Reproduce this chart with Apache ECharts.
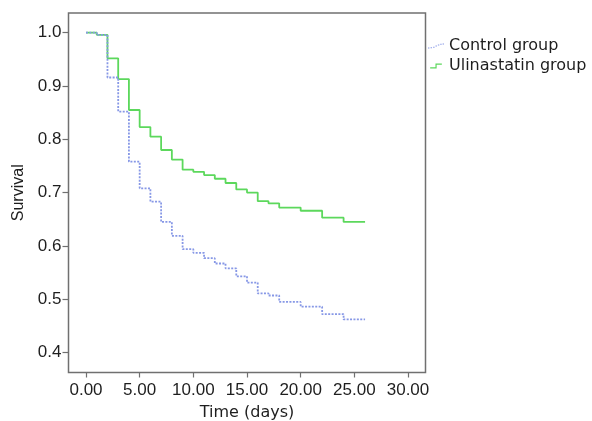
<!DOCTYPE html>
<html>
<head>
<meta charset="utf-8">
<script src="https://cdn.jsdelivr.net/npm/echarts@6/dist/echarts.min.js"></script>
<style>
html,body{margin:0;padding:0;background:#fff;}
#chart{width:592px;height:421px;}
</style>
</head>
<body>
<div id="chart"></div>
<script>
// Time points (days) at which survival changes
var times = [0, 1, 2, 3, 4, 5, 6, 7, 8, 9, 10, 11, 12, 13, 14, 15, 16, 17, 18, 20, 22, 24, 26];
// Survival of each group after each time point
var controlSurvival = [1.0, 0.996, 0.916, 0.852, 0.758, 0.708, 0.683, 0.645, 0.619, 0.594, 0.587, 0.577, 0.567, 0.558, 0.543, 0.531, 0.511, 0.507, 0.495, 0.486, 0.472, 0.462, 0.462];
var ulinastatinSurvival = [1.0, 0.996, 0.952, 0.913, 0.855, 0.823, 0.805, 0.780, 0.762, 0.743, 0.739, 0.733, 0.726, 0.718, 0.706, 0.700, 0.684, 0.680, 0.672, 0.666, 0.653, 0.645, 0.645];
var seriesNames = ['Control group', 'Ulinastatin group'];
var xTicks = [0, 5, 10, 15, 20, 25, 30];
var yTicks = [0.4, 0.5, 0.6, 0.7, 0.8, 0.9, 1.0];

function pairs(xs, ys) { return xs.map(function (x, i) { return [x, ys[i]]; }); }

var blue = '#8798e6';
var green = '#5cd85c';
var helv = 'Liberation Sans, Arial, Helvetica, sans-serif';
var wide = 'DejaVu Sans, sans-serif';
var textColor = '#1e1e1e';
var frameColor = '#707070';

var chart = echarts.init(document.getElementById('chart'), null, {renderer: 'canvas'});
chart.setOption({
  animation: false,
  backgroundColor: '#ffffff',
  textStyle: {fontFamily: helv},
  grid: {
    left: 68.5, top: 13, right: 166.5, bottom: 48.5,
    outerBoundsMode: 'none', containLabel: false,
    show: true, borderColor: frameColor, borderWidth: 1.5, backgroundColor: 'transparent'
  },
  legend: {
    orient: 'vertical',
    left: 428, top: 38,
    padding: 0,
    itemWidth: 16, itemHeight: 5, itemGap: 4,
    symbolKeepAspect: true,
    textStyle: {fontSize: 16, color: textColor, fontFamily: wide, lineHeight: 16},
    data: [
      {name: seriesNames[0], icon: 'path://M0,4.2h1.3v0.9h-1.3z M2.4,4.1h1.3v0.9h-1.3z M4.8,3.5h1.3v0.9h-1.3z M7,2.4h1.3v0.9h-1.3z M9.2,1.4h1.3v0.9h-1.3z M11.4,0.7h1.3v0.9h-1.3z M13.6,0.6h1.3v0.9h-1.3z', itemStyle: {color: blue, borderWidth: 0}},
      {name: seriesNames[1], icon: 'path://M0,4.1L5,4.1L5,0.5L11,0.5L11,1.6L6.1,1.6L6.1,5.2L0,5.2Z', itemStyle: {color: green, borderWidth: 0}}
    ]
  },
  xAxis: {
    type: 'value',
    min: -1.63, max: 31.63,
    name: 'Time (days)', nameLocation: 'middle', nameGap: 32,
    nameTextStyle: {fontSize: 16, color: textColor, fontFamily: wide},
    axisLine: {show: false, onZero: false},
    axisTick: {show: true, inside: true, length: -5, customValues: xTicks, lineStyle: {color: frameColor, width: 1.2}},
    axisLabel: {customValues: xTicks, margin: 9, fontSize: 17, color: textColor, fontFamily: helv,
      formatter: function (v) { return Number(v).toFixed(2); }},
    splitLine: {show: false}
  },
  yAxis: {
    type: 'value',
    min: 0.3625, max: 1.037,
    name: 'Survival', nameLocation: 'middle', nameGap: 37,
    nameTextStyle: {fontSize: 16, color: textColor, fontFamily: helv},
    axisLine: {show: false, onZero: false},
    axisTick: {show: true, inside: true, length: -6, customValues: yTicks, lineStyle: {color: frameColor, width: 1.2}},
    axisLabel: {customValues: yTicks, margin: 7, fontSize: 17, color: textColor, fontFamily: helv,
      formatter: function (v) { return Number(v).toFixed(1); }},
    splitLine: {show: false}
  },
  series: [
    {
      name: seriesNames[1], type: 'line', step: 'end', showSymbol: false, symbol: 'none',
      data: pairs(times, ulinastatinSurvival),
      lineStyle: {color: green, width: 1.8}, itemStyle: {color: green}, z: 2
    },
    {
      name: seriesNames[0], type: 'line', step: 'end', showSymbol: false, symbol: 'none',
      data: pairs(times, controlSurvival),
      lineStyle: {color: blue, width: 1.8, type: [2, 1.4]}, itemStyle: {color: blue}, z: 3
    }
  ]
});
</script>
</body>
</html>
